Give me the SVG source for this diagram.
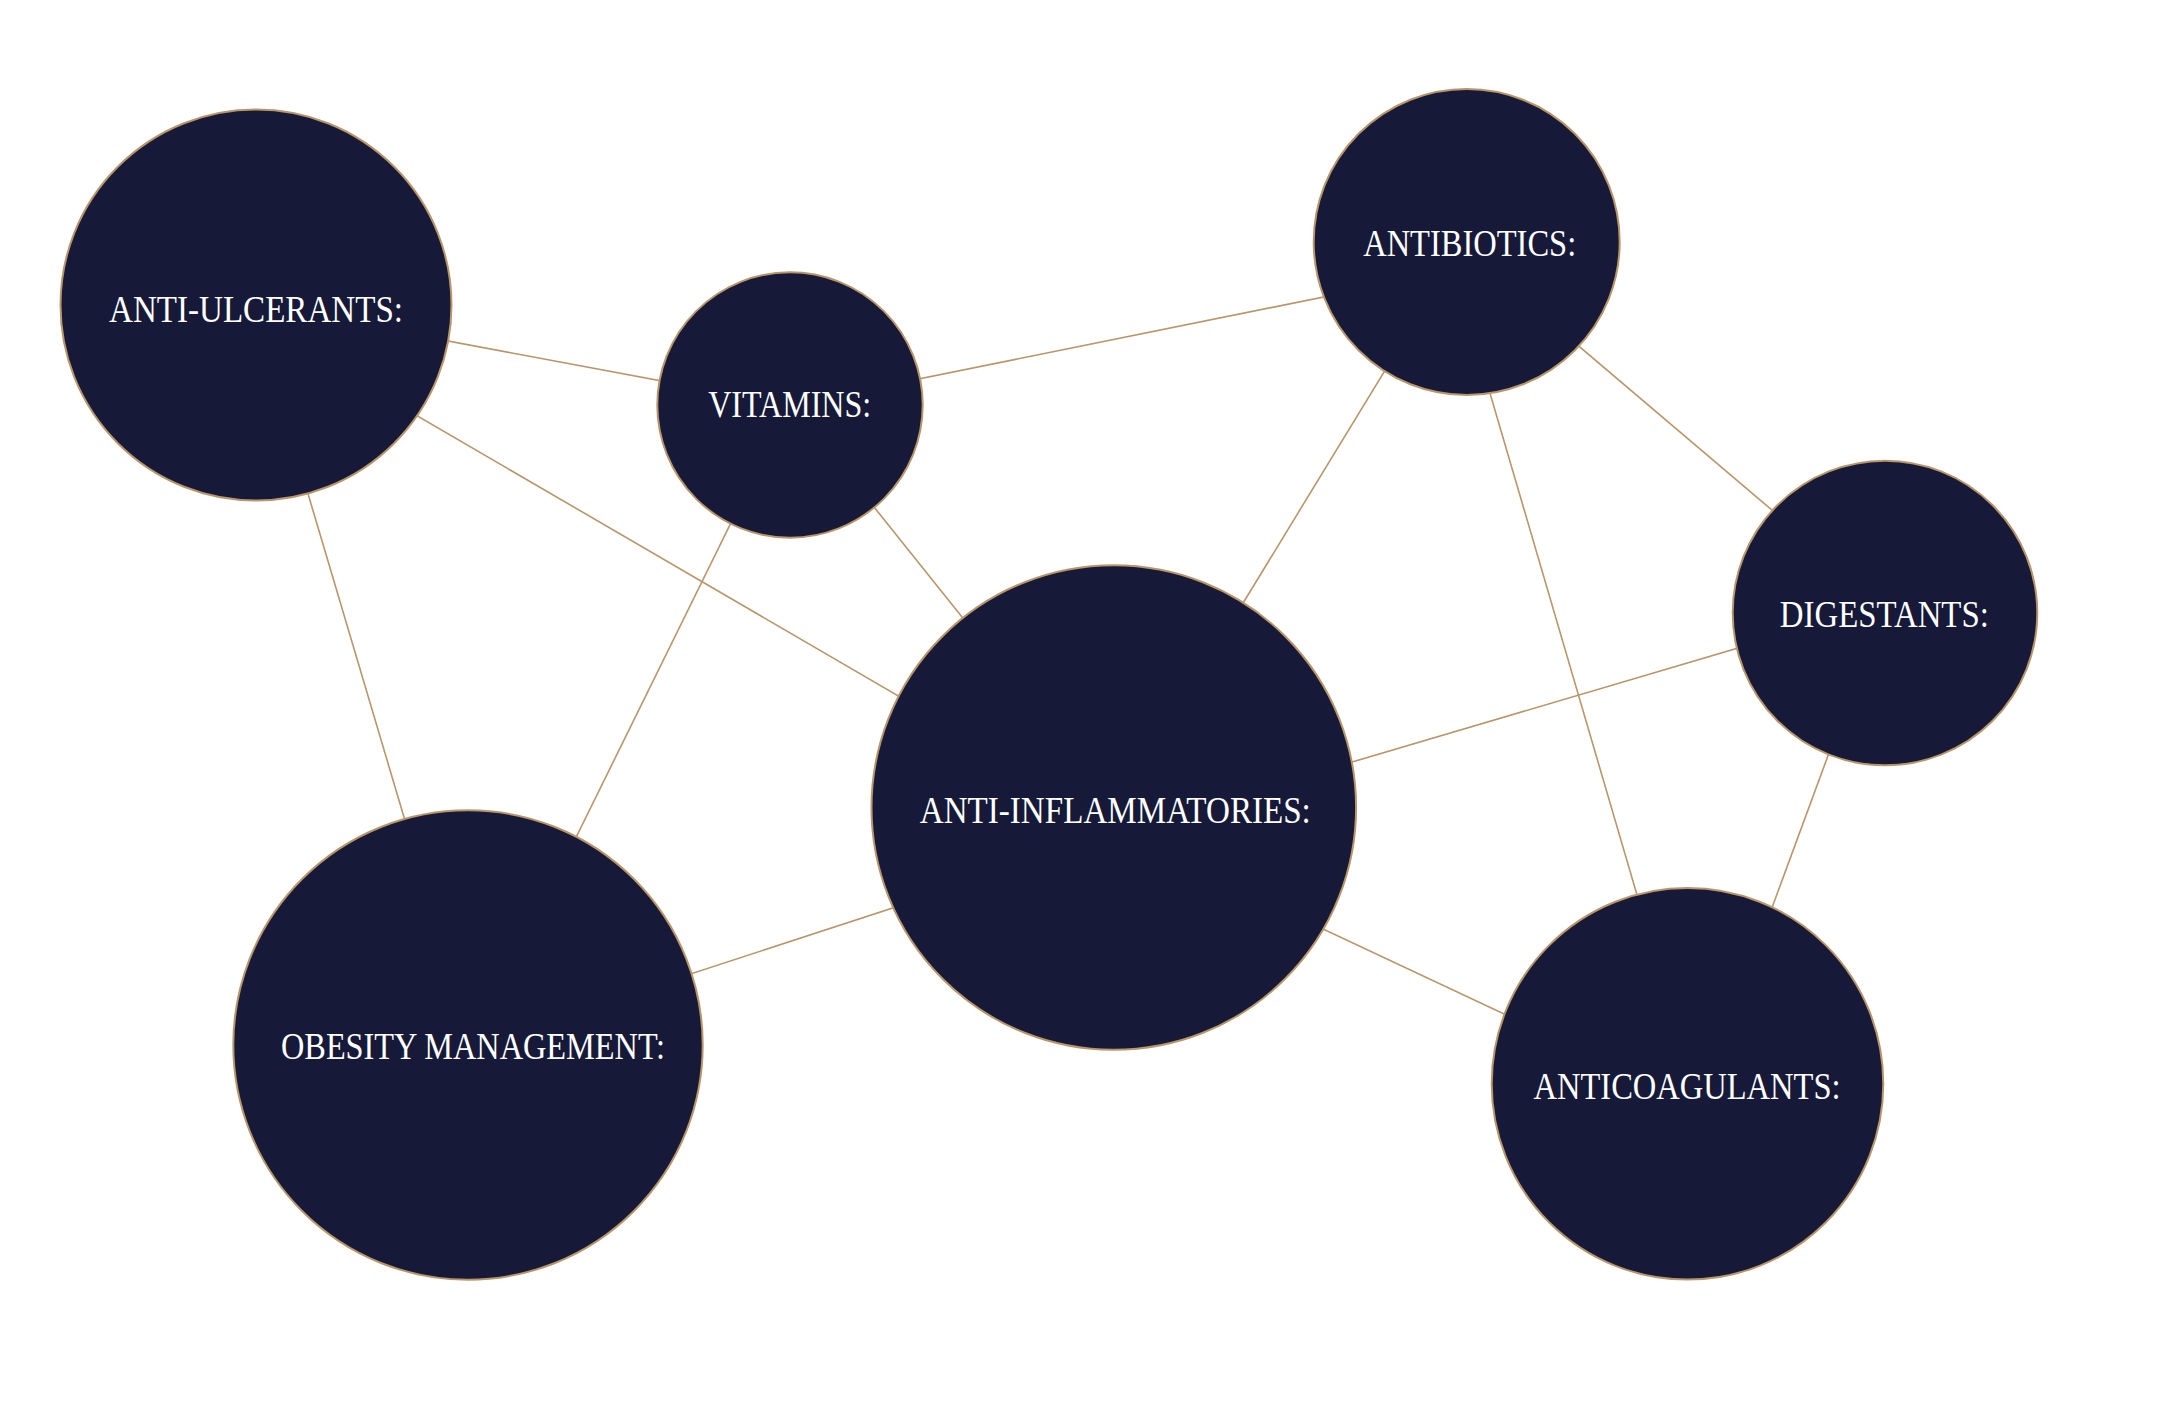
<svg xmlns="http://www.w3.org/2000/svg" width="2160" height="1410" viewBox="0 0 2160 1410">
<style>
.bg{fill:#ffffff}
.edge{stroke:#b8966a;stroke-width:1.6;fill:none}
.node circle{fill:#161a38;stroke:#b8966a;stroke-width:2}
.node text{fill:#ffffff;font-family:"Liberation Serif","DejaVu Serif",serif;font-size:38px;text-anchor:middle}
</style>
<rect class="bg" x="0" y="0" width="2160" height="1410"/>
<g id="connectors">
<line class="edge" x1="256" y1="305" x2="790" y2="405"/>
<line class="edge" x1="256" y1="322" x2="1114" y2="821.5"/>
<line class="edge" x1="252" y1="305" x2="471.6" y2="1045"/>
<line class="edge" x1="790" y1="405" x2="1466.7" y2="268"/>
<line class="edge" x1="790" y1="402" x2="1114" y2="807"/>
<line class="edge" x1="789" y1="405" x2="473.8" y2="1045"/>
<line class="edge" x1="1463.4" y1="242" x2="1118" y2="808"/>
<line class="edge" x1="1466.7" y1="251" x2="1885" y2="606"/>
<line class="edge" x1="1445.7" y1="242" x2="1692.4" y2="1084"/>
<line class="edge" x1="1885" y1="604.7" x2="1114" y2="832.3"/>
<line class="edge" x1="1880.6" y1="613" x2="1707" y2="1084"/>
<line class="edge" x1="468" y1="1046.7" x2="1114" y2="835.7"/>
<line class="edge" x1="1114" y1="831" x2="1687.5" y2="1100"/>
</g>
<g id="node-anti-ulcerants" class="node">
<circle cx="256" cy="305" r="195.5"/>
<text x="256" y="321.7" textLength="294" lengthAdjust="spacingAndGlyphs">ANTI-ULCERANTS:</text>
</g>
<g id="node-vitamins" class="node">
<circle cx="790" cy="405" r="132.7"/>
<text x="789.7" y="417.3" textLength="163" lengthAdjust="spacingAndGlyphs">VITAMINS:</text>
</g>
<g id="node-antibiotics" class="node">
<circle cx="1466.7" cy="242" r="153"/>
<text x="1469.7" y="256" textLength="213" lengthAdjust="spacingAndGlyphs">ANTIBIOTICS:</text>
</g>
<g id="node-digestants" class="node">
<circle cx="1885" cy="613" r="152.3"/>
<text x="1884.3" y="626.7" textLength="209" lengthAdjust="spacingAndGlyphs">DIGESTANTS:</text>
</g>
<g id="node-anti-inflammatories" class="node">
<circle cx="1113.8" cy="807.5" r="242.3"/>
<text x="1115.3" y="822.7" textLength="391" lengthAdjust="spacingAndGlyphs">ANTI-INFLAMMATORIES:</text>
</g>
<g id="node-obesity-management" class="node">
<circle cx="468" cy="1045" r="234.7"/>
<text x="473" y="1059.3" textLength="384" lengthAdjust="spacingAndGlyphs">OBESITY MANAGEMENT:</text>
</g>
<g id="node-anticoagulants" class="node">
<circle cx="1687.5" cy="1083.8" r="195.8"/>
<text x="1687" y="1099" textLength="307" lengthAdjust="spacingAndGlyphs">ANTICOAGULANTS:</text>
</g>
</svg>
